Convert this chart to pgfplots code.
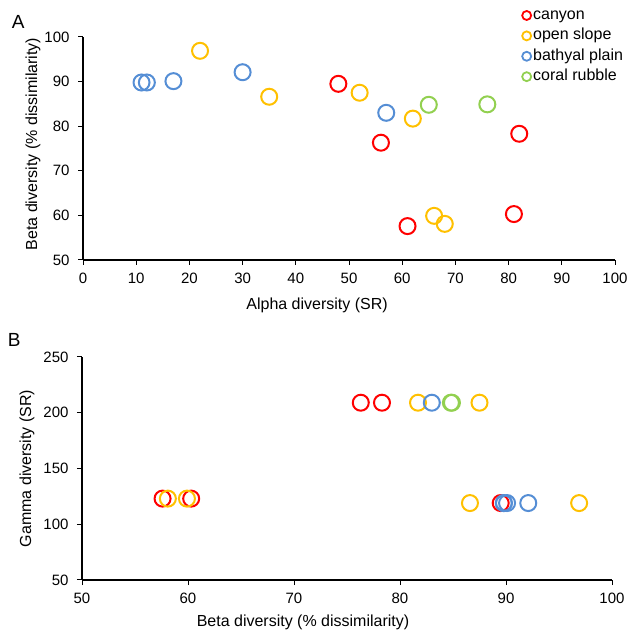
\documentclass[border=0pt]{standalone}
\usepackage{fontspec}
\setmainfont{Liberation Sans}
\usepackage{pgfplots}
\pgfplotsset{compat=1.18}

\definecolor{canyon}{RGB}{255,0,0}
\definecolor{slope}{RGB}{255,192,0}
\definecolor{plain}{RGB}{85,142,213}
\definecolor{rubble}{RGB}{146,208,80}

\pgfplotsset{
  panel/.style={
    scale only axis, width=532pt, height=223pt,
    axis x line*=bottom, axis y line*=left,
    axis line style={line width=1.3pt, -},
    tick align=outside, major tick length=5pt,
    tick style={black, line width=1pt},
    tick label style={font=\fontsize{15}{17}\selectfont},
    yticklabel style={xshift=-5pt},
    xticklabel style={yshift=-4pt},
    label style={font=\fontsize{16}{18}\selectfont},
    /pgf/number format/assume math mode=true,
    clip=false,
  },
  dot/.style={only marks, mark=o, mark size=8pt, line width=2pt, color=#1},
}

\begin{document}
\begin{tikzpicture}
\useasboundingbox (0,0) rectangle (629pt,635pt);

% Panel A
\begin{axis}[panel, at={(83pt,375pt)}, anchor=south west,
  xmin=0, xmax=100, ymin=50, ymax=100,
  xtick={0,10,...,100}, ytick={50,60,...,100},
  xlabel={Alpha diversity (SR)},
  ylabel={Beta diversity (\% dissimilarity)},
  xlabel style={at={(rel axis cs:0.44,0)}, anchor=center, yshift=-45pt},
  ylabel style={at={(rel axis cs:0,0.52)}, anchor=center, rotate=0, xshift=0pt, yshift=50pt},
  legend style={draw=none, fill=none, at={(rel axis cs:0.8195,1.140)}, anchor=north west,
    font=\fontsize{16}{18}\selectfont, row sep=5.4pt,
    nodes={inner xsep=2pt, inner ysep=0pt, text height=11.5pt, text depth=3.5pt}},
  legend cell align=left,
  legend image code/.code={\draw[#1, mark size=4.5pt, line width=1.8pt] plot coordinates {(0pt,0pt)};},
]
\addplot[dot=canyon] coordinates {(48,89.5) (56,76.3) (61,57.6) (81,60.3) (82,78.3)};
\addlegendentry{canyon}
\addplot[dot=slope] coordinates {(22,96.9) (35,86.6) (52,87.5) (62,81.7) (66,59.9) (68,58.1)};
\addlegendentry{open slope}
\addplot[dot=plain] coordinates {(11,89.8) (12,89.8) (17,90.1) (30,92.1) (57,83.0)};
\addlegendentry{bathyal plain}
\addplot[dot=rubble] coordinates {(65,84.8) (76,84.9)};
\addlegendentry{coral rubble}
\node[font=\fontsize{19}{20}\selectfont] at (rel axis cs:-0.122,1.067) {A};
\end{axis}

% Panel B
\begin{axis}[panel, at={(82pt,55pt)}, anchor=south west, width=530pt,
  xmin=50, xmax=100, ymin=50, ymax=250,
  xtick={50,60,...,100}, ytick={50,100,...,250},
  x axis line style={line width=2.2pt},
  xlabel={Beta diversity (\% dissimilarity)},
  ylabel={Gamma diversity (SR)},
  xlabel style={at={(rel axis cs:0.417,0)}, anchor=center, yshift=-42pt},
  ylabel style={at={(rel axis cs:0,0.5)}, anchor=center, rotate=0, yshift=55pt},
]
\addplot[dot=canyon] coordinates {(76.3,209) (78.3,209) (89.5,119) (57.6,123) (60.3,123)};
\addplot[dot=slope] coordinates {(81.7,209) (87.5,209) (86.6,119) (96.9,119) (58.1,123) (59.9,123)};
\addplot[dot=plain] coordinates {(83.0,209) (89.8,119) (89.8,119) (90.1,119) (92.1,119)};
\addplot[dot=rubble] coordinates {(84.8,209) (84.9,209)};
\node[font=\fontsize{19}{20}\selectfont] at (rel axis cs:-0.128,1.076) {B};
\end{axis}
\end{tikzpicture}
\end{document}
